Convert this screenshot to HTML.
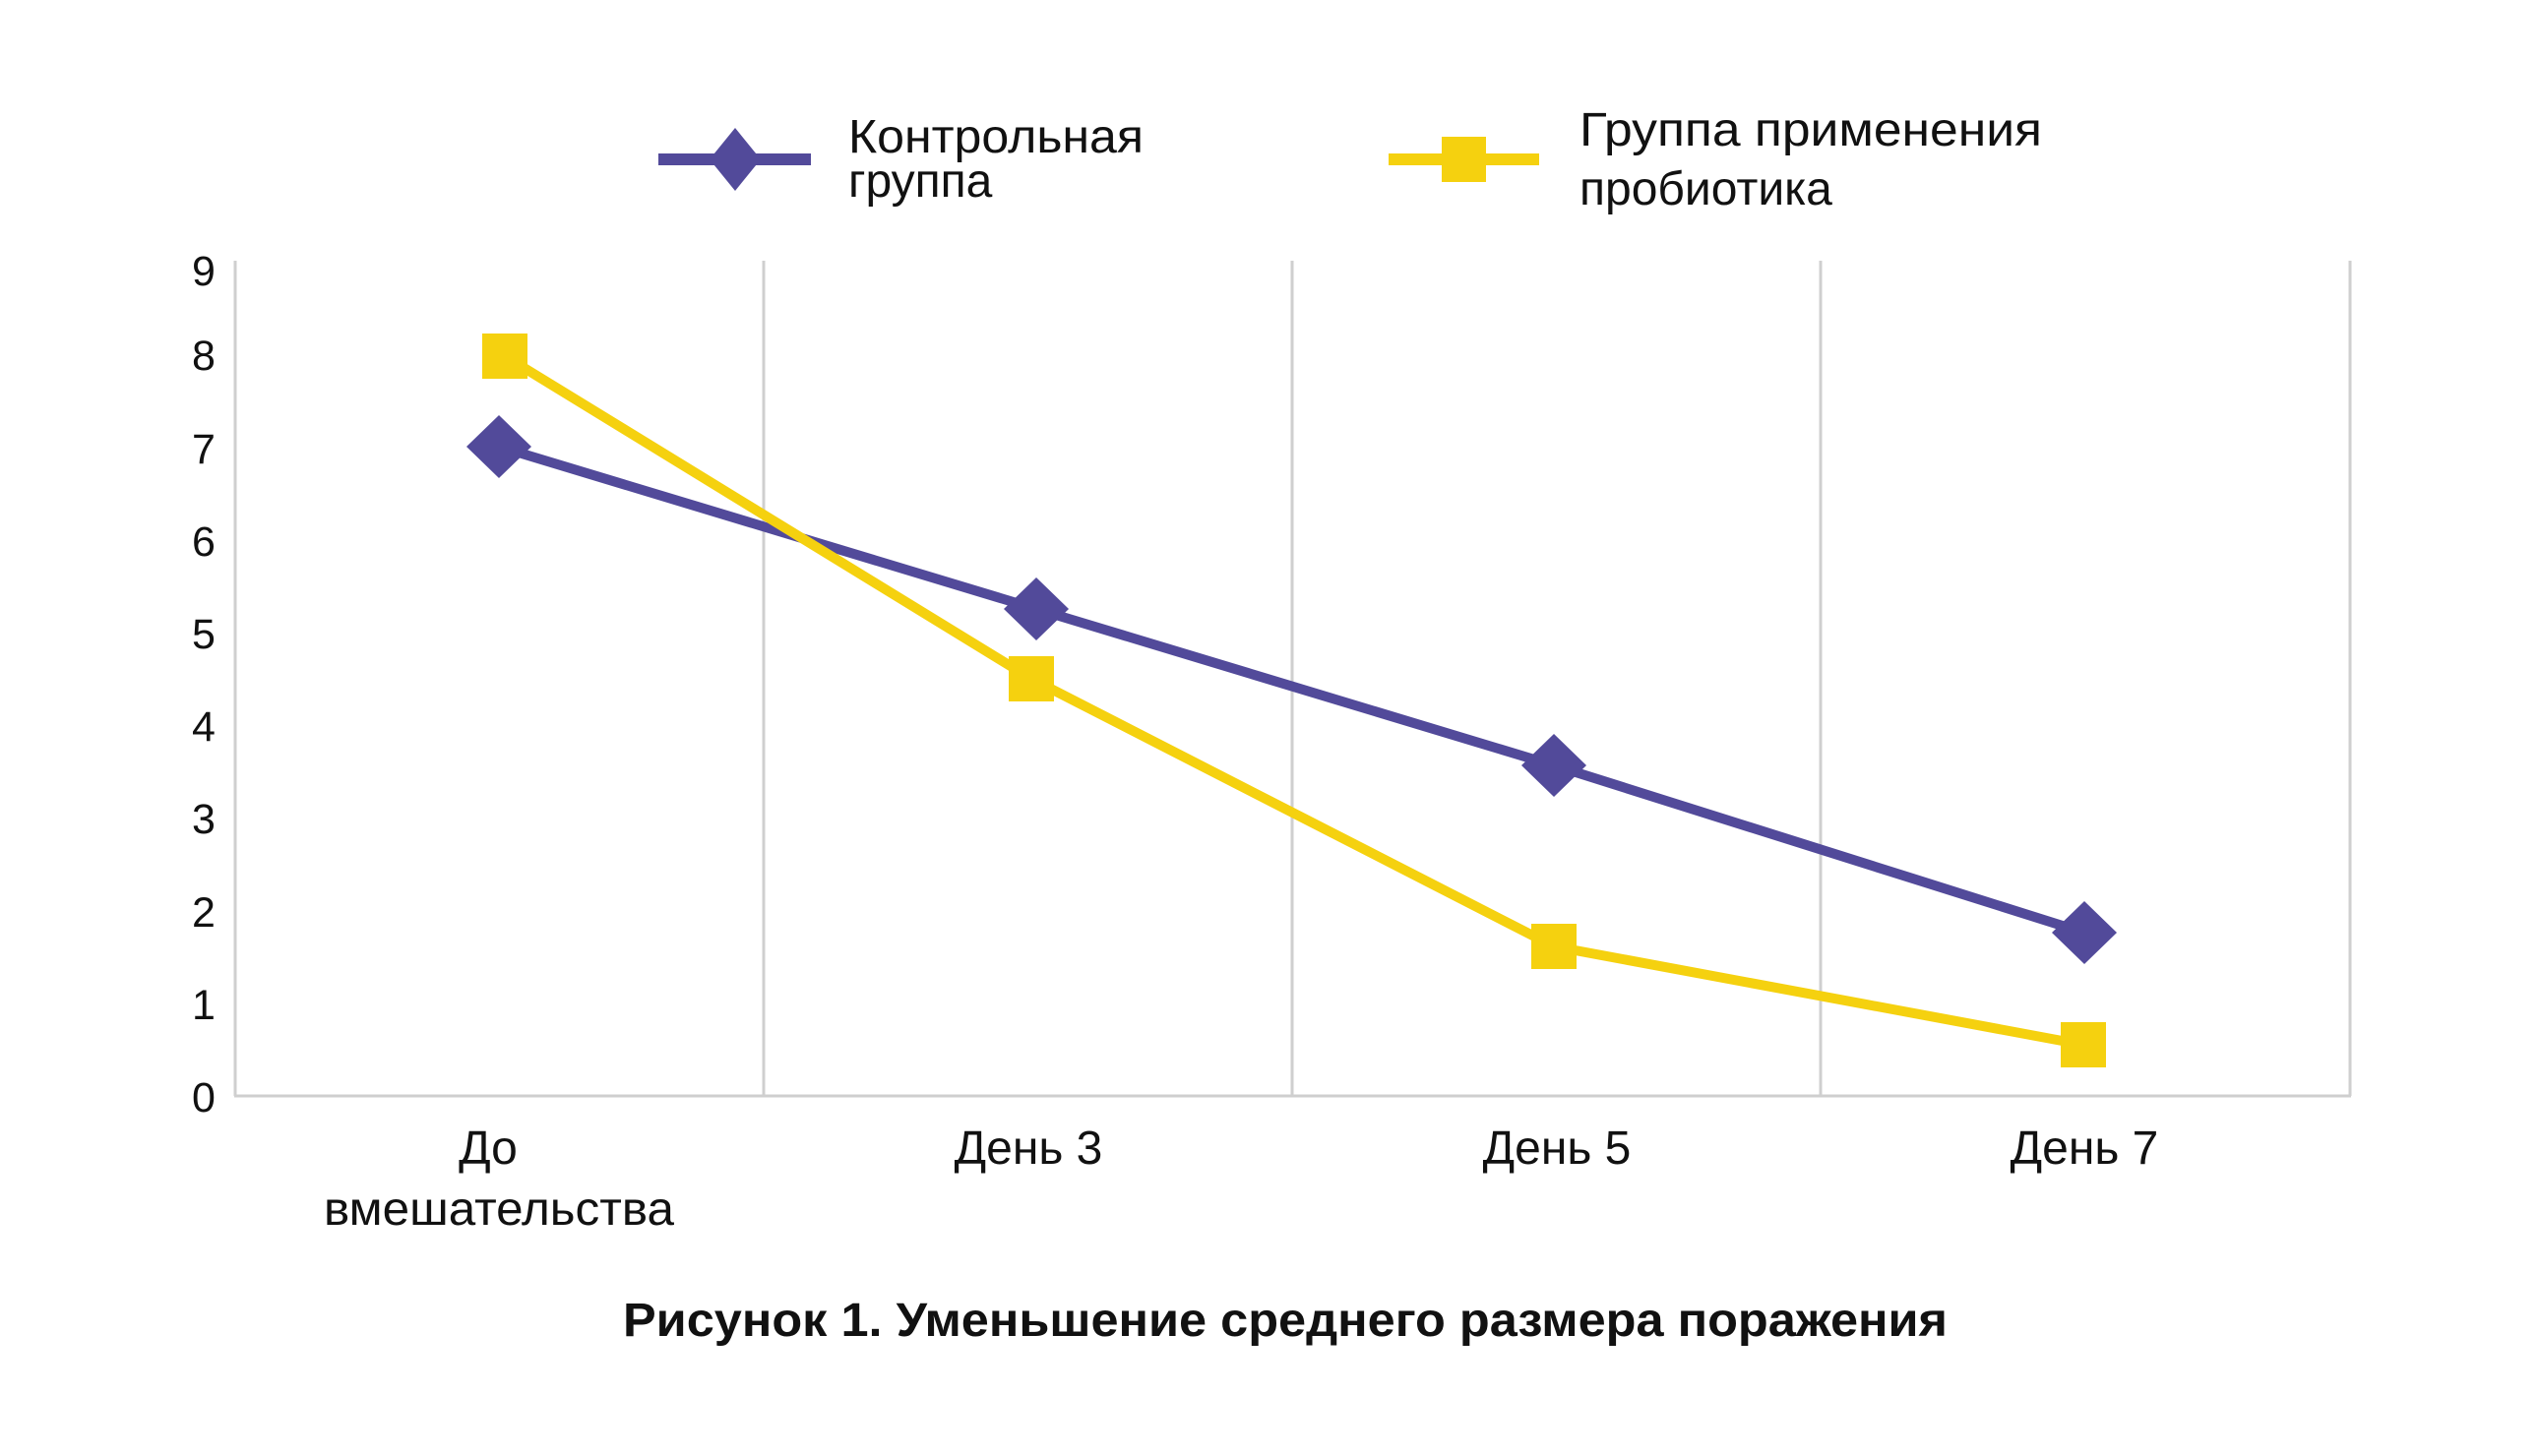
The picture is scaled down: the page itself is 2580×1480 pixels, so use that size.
<!DOCTYPE html>
<html><head><meta charset="utf-8"><style>html,body{margin:0;padding:0;background:#fff}</style></head>
<body>
<svg width="2580" height="1475" viewBox="0 0 2580 1475" xmlns="http://www.w3.org/2000/svg" font-family="Liberation Sans, sans-serif">
<rect width="2580" height="1475" fill="#fff"/>
<g stroke="#cfcfcf" stroke-width="3">
<line x1="239" y1="265" x2="239" y2="1114"/>
<line x1="776" y1="265" x2="776" y2="1114"/>
<line x1="1313" y1="265" x2="1313" y2="1114"/>
<line x1="1850" y1="265" x2="1850" y2="1114"/>
<line x1="2388" y1="265" x2="2388" y2="1114"/>
<line x1="238" y1="1114" x2="2389" y2="1114"/>
</g>
<g font-size="43" fill="#111" text-anchor="middle">
<text x="207" y="1130">0</text><text x="207" y="1036">1</text><text x="207" y="942">2</text>
<text x="207" y="847">3</text><text x="207" y="753">4</text><text x="207" y="659">5</text>
<text x="207" y="565">6</text><text x="207" y="471">7</text><text x="207" y="376">8</text>
<text x="207" y="290">9</text>
</g>
<g font-size="48" fill="#111" text-anchor="middle">
<text x="496" y="1183">До</text>
<text x="507" y="1245" textLength="356" lengthAdjust="spacingAndGlyphs">вмешательства</text>
<text x="1045" y="1183">День 3</text>
<text x="1582" y="1183">День 5</text>
<text x="2118" y="1183">День 7</text>
</g>
<polyline points="507,454 1053,619 1579,778 2118,948" fill="none" stroke="#524a9a" stroke-width="10"/>
<polyline points="513,362 1048,690 1579,962 2117,1062" fill="none" stroke="#f5d10f" stroke-width="10"/>
<g fill="#524a9a">
<polygon points="507,422 540,454 507,486 474,454"/>
<polygon points="1053,587 1086,619 1053,651 1020,619"/>
<polygon points="1579,746 1612,778 1579,810 1546,778"/>
<polygon points="2118,916 2151,948 2118,980 2085,948"/>
</g>
<g fill="#f5d10f">
<rect x="490" y="339" width="46" height="46"/>
<rect x="1025" y="667" width="46" height="46"/>
<rect x="1556" y="939" width="46" height="46"/>
<rect x="2094" y="1039" width="46" height="46"/>
</g>
<line x1="669" y1="162" x2="824" y2="162" stroke="#524a9a" stroke-width="12"/>
<polygon points="747,130 773,162 747,194 721,162" fill="#524a9a"/>
<line x1="1411" y1="162" x2="1564" y2="162" stroke="#f5d10f" stroke-width="12"/>
<rect x="1465" y="139" width="45" height="46" fill="#f5d10f"/>
<g font-size="48" fill="#111">
<text x="862" y="155" textLength="300" lengthAdjust="spacingAndGlyphs">Контрольная</text>
<text x="862" y="200">группа</text>
<text x="1605" y="148" textLength="470" lengthAdjust="spacingAndGlyphs">Группа применения</text>
<text x="1605" y="208">пробиотика</text>
</g>
<text x="1306" y="1358" font-size="48" font-weight="bold" fill="#111" text-anchor="middle" textLength="1346" lengthAdjust="spacingAndGlyphs">Рисунок 1. Уменьшение среднего размера поражения</text>
</svg>
</body></html>
